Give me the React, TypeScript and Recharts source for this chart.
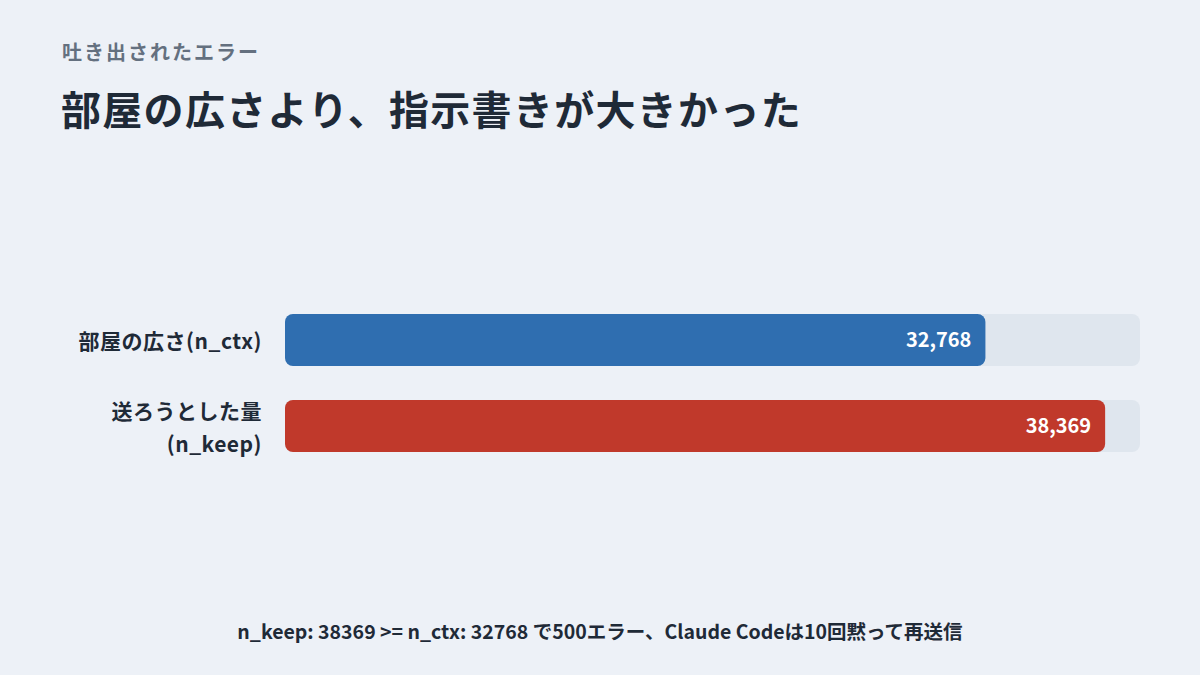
import React from "react";
import { BarChart, Bar, XAxis, YAxis, LabelList, Cell } from "recharts";

const categories = ["部屋の広さ(n_ctx)", "送ろうとした量\n(n_keep)"];
const tokens = [32768, 38369];
const barColors = ["#2f6eb0", "#c0392b"];

const data = categories.map((name, i) => ({ name, tokens: tokens[i] }));

const FONT = '"Noto Sans CJK JP", "Noto Sans", sans-serif';
const INK = "#1f2a37";

function CategoryTick(props: any) {
  const { x, y, payload } = props;
  const lines = String(payload.value).split("\n");
  const lineH = 33;
  const startY = y - ((lines.length - 1) * lineH) / 2;
  return (
    <text
      x={x - 15}
      y={startY}
      textAnchor="end"
      dominantBaseline="central"
      fill={INK}
      fontSize={21}
      fontWeight={700}
      fontFamily={FONT}
      letterSpacing={0.5}
    >
      {lines.map((line, i) => (
        <tspan key={i} x={x - 15} dy={i === 0 ? 0 : lineH}>
          {line}
        </tspan>
      ))}
    </text>
  );
}

export default function App() {
  return (
    <div
      style={{
        position: "fixed",
        left: 0,
        top: 0,
        width: 1200,
        height: 675,
        background: "#edf1f7",
        fontFamily: FONT,
        overflow: "hidden",
      }}
    >
      <div
        style={{
          position: "absolute",
          left: 62,
          top: 38,
          fontSize: 20,
          fontWeight: 700,
          letterSpacing: 2,
          color: "#64707f",
          lineHeight: "28px",
        }}
      >
        吐き出されたエラー
      </div>
      <div
        style={{
          position: "absolute",
          left: 61,
          top: 84,
          fontSize: 40,
          fontWeight: 700,
          letterSpacing: 1.3,
          color: INK,
          lineHeight: "48px",
        }}
      >
        部屋の広さより、指示書きが大きかった
      </div>

      <div style={{ position: "absolute", left: 0, top: 0 }}>
        <BarChart
          width={1200}
          height={675}
          data={data}
          layout="vertical"
          margin={{ top: 297, right: 60, bottom: 206, left: 40 }}
          barSize={52}
        >
          <XAxis type="number" domain={[0, 40000]} hide />
          <YAxis
            type="category"
            dataKey="name"
            width={245}
            axisLine={false}
            tickLine={false}
            tick={<CategoryTick />}
          />
          <Bar
            dataKey="tokens"
            radius={8}
            background={{ fill: "#dfe6ee", radius: 8 } as any}
            isAnimationActive={false}
          >
            {data.map((d, i) => (
              <Cell key={d.name} fill={barColors[i]} />
            ))}
            <LabelList
              dataKey="tokens"
              position="insideRight"
              offset={14}
              fill="#ffffff"
              fontSize={20}
              fontWeight={700}
              fontFamily={FONT}
              formatter={(v: any) => Number(v).toLocaleString("en-US")}
            />
          </Bar>
        </BarChart>
      </div>

      <div
        style={{
          position: "absolute",
          left: 0,
          width: 1200,
          top: 617,
          textAlign: "center",
          fontSize: 19.5,
          fontWeight: 700,
          color: INK,
          lineHeight: "28px",
        }}
      >
        n_keep: 38369 &gt;= n_ctx: 32768 で500エラー、Claude Codeは10回黙って再送信
      </div>
    </div>
  );
}
